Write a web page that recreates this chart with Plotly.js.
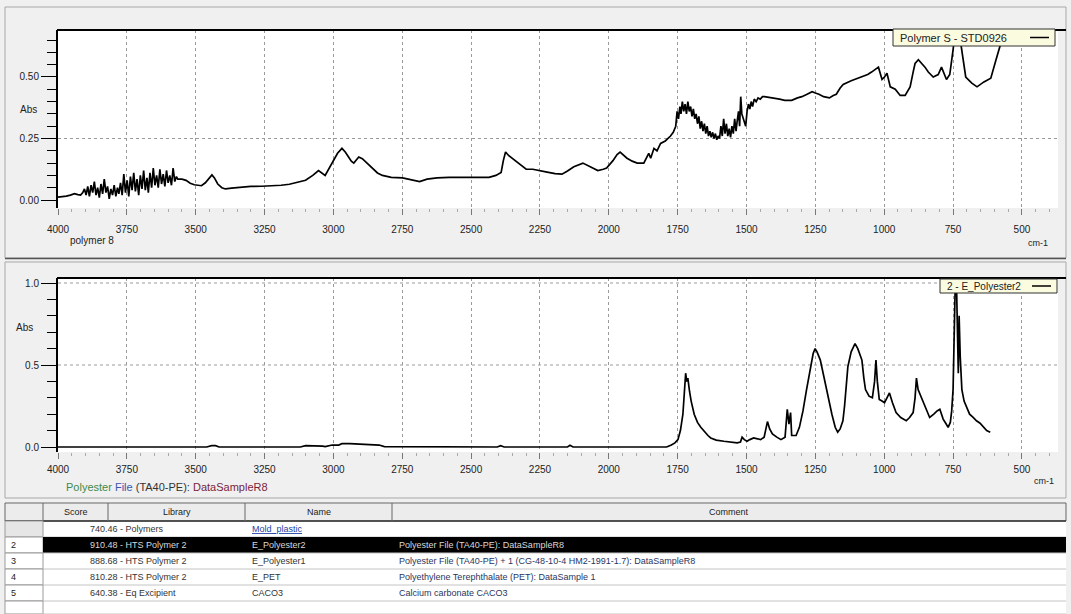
<!DOCTYPE html>
<html>
<head>
<meta charset="utf-8">
<script src="https://cdn.plot.ly/plotly-3.0.1.min.js"></script>
<style>
  html, body { margin: 0; padding: 0; background: #f0f0f0; }
  #chart { width: 1071px; height: 614px; }
</style>
</head>
<body>
<div id="chart"></div>
<script>
// Sample spectrum (upper pane): wavenumber (cm-1) and absorbance
const sampleWn = [
  4000, 3985, 3970, 3955, 3940, 3928, 3918, 3910, 3904, 3898, 3892, 3886, 3880, 3874, 3868, 3862,
  3856, 3850, 3844, 3838, 3832, 3826, 3820, 3814, 3808, 3802, 3796, 3790, 3784, 3779, 3773, 3767,
  3761, 3755, 3749, 3743, 3737, 3731, 3725, 3719, 3713, 3707, 3701, 3695, 3689, 3683, 3677, 3672,
  3666, 3660, 3654, 3648, 3642, 3636, 3630, 3624, 3618, 3612, 3606, 3600, 3594, 3588, 3582, 3576,
  3570, 3565, 3550, 3535, 3520, 3505, 3490, 3479, 3465, 3452, 3441, 3432, 3420, 3405, 3392, 3370,
  3340, 3300, 3260, 3220, 3190, 3160, 3139, 3101, 3075, 3054, 3030, 3015, 2999, 2985, 2969, 2957,
  2945, 2935, 2926, 2908, 2895, 2883, 2859, 2840, 2822, 2790, 2749, 2720, 2687, 2660, 2624, 2580,
  2530, 2480, 2435, 2410, 2391, 2383, 2375, 2363, 2352, 2340, 2322, 2300, 2276, 2250, 2224, 2195,
  2170, 2150, 2127, 2094, 2075, 2062, 2040, 2020, 2008, 1985, 1970, 1959, 1945, 1934, 1915, 1897,
  1873, 1862, 1855, 1848, 1836, 1825, 1812, 1795, 1776, 1766, 1757, 1752, 1747, 1742, 1738, 1733,
  1728, 1723, 1718, 1713, 1708, 1703, 1698, 1693, 1688, 1683, 1678, 1673, 1668, 1663, 1658, 1653,
  1648, 1643, 1638, 1633, 1628, 1623, 1618, 1613, 1608, 1603, 1598, 1593, 1588, 1583, 1578, 1573,
  1568, 1563, 1558, 1553, 1548, 1543, 1538, 1534, 1529, 1525, 1521, 1517, 1512, 1507, 1503, 1498,
  1493, 1488, 1483, 1478, 1472, 1465, 1458, 1450, 1442, 1435, 1420, 1398, 1380, 1361, 1336, 1315,
  1299, 1280, 1262, 1250, 1237, 1220, 1199, 1185, 1174, 1160, 1149, 1120, 1085, 1060, 1046, 1030,
  1021, 1008, 999, 990, 978, 960, 942, 924, 906, 895, 888, 876, 864, 852, 840, 822,
  804, 792, 774, 762, 750, 741, 733, 725, 718, 713, 704, 682, 663, 638, 613, 594,
  575, 563, 555
];
const sampleAbs = [
  0.012, 0.013, 0.016, 0.020, 0.026, 0.022, 0.020, 0.030, 0.045, 0.020, 0.055, 0.015, 0.060, 0.030, 0.075, 0.020,
  0.050, 0.010, 0.065, 0.025, 0.085, 0.030, 0.055, 0.005, 0.045, 0.020, 0.060, 0.015, 0.050, 0.025, 0.070, 0.020,
  0.105, 0.030, 0.080, 0.015, 0.095, 0.040, 0.110, 0.035, 0.085, 0.020, 0.100, 0.045, 0.120, 0.040, 0.090, 0.030,
  0.110, 0.050, 0.130, 0.060, 0.100, 0.050, 0.125, 0.065, 0.105, 0.055, 0.120, 0.070, 0.100, 0.060, 0.130, 0.075,
  0.095, 0.085, 0.085, 0.080, 0.068, 0.062, 0.058, 0.058, 0.070, 0.085, 0.102, 0.090, 0.065, 0.050, 0.045, 0.048,
  0.052, 0.055, 0.056, 0.057, 0.060, 0.064, 0.070, 0.080, 0.100, 0.120, 0.100, 0.130, 0.160, 0.190, 0.210, 0.195,
  0.175, 0.158, 0.150, 0.175, 0.168, 0.155, 0.130, 0.110, 0.100, 0.092, 0.090, 0.082, 0.075, 0.085, 0.090, 0.092,
  0.091, 0.092, 0.092, 0.100, 0.112, 0.160, 0.195, 0.180, 0.170, 0.160, 0.145, 0.125, 0.125, 0.118, 0.113, 0.107,
  0.105, 0.118, 0.135, 0.150, 0.140, 0.130, 0.120, 0.125, 0.130, 0.160, 0.185, 0.195, 0.182, 0.170, 0.158, 0.150,
  0.150, 0.175, 0.190, 0.170, 0.210, 0.200, 0.230, 0.240, 0.260, 0.275, 0.300, 0.360, 0.330, 0.380, 0.350, 0.400,
  0.360, 0.390, 0.350, 0.400, 0.360, 0.380, 0.340, 0.370, 0.330, 0.350, 0.310, 0.340, 0.290, 0.320, 0.280, 0.310,
  0.270, 0.300, 0.260, 0.280, 0.255, 0.275, 0.250, 0.270, 0.245, 0.260, 0.250, 0.300, 0.260, 0.330, 0.270, 0.310,
  0.260, 0.290, 0.255, 0.300, 0.270, 0.330, 0.280, 0.320, 0.360, 0.300, 0.420, 0.350, 0.330, 0.310, 0.300, 0.360,
  0.390, 0.370, 0.400, 0.380, 0.410, 0.400, 0.415, 0.410, 0.420, 0.420, 0.418, 0.415, 0.410, 0.405, 0.405, 0.415,
  0.420, 0.430, 0.440, 0.435, 0.430, 0.420, 0.415, 0.425, 0.430, 0.455, 0.470, 0.485, 0.500, 0.510, 0.520, 0.535,
  0.540, 0.490, 0.500, 0.515, 0.460, 0.450, 0.425, 0.425, 0.460, 0.520, 0.555, 0.570, 0.555, 0.540, 0.520, 0.500,
  0.510, 0.540, 0.490, 0.510, 0.610, 0.700, 0.720, 0.660, 0.620, 0.570, 0.500, 0.475, 0.460, 0.480, 0.495, 0.570,
  0.640, 0.690, 0.720
];

// Library match spectrum (lower pane)
const refWn = [
  4000, 3700, 3460, 3442, 3428, 3415, 3120, 3101, 3060, 3039, 3030, 3004, 2981, 2969, 2940, 2908,
  2883, 2834, 2815, 2600, 2405, 2393, 2380, 2150, 2141, 2130, 1790, 1773, 1760, 1749, 1740, 1731,
  1725, 1721, 1717, 1713, 1707, 1701, 1690, 1678, 1666, 1654, 1640, 1630, 1610, 1582, 1560, 1534,
  1522, 1516, 1508, 1498, 1488, 1474, 1460, 1449, 1436, 1424, 1416, 1406, 1390, 1375, 1360, 1352,
  1346, 1340, 1336, 1320, 1308, 1295, 1282, 1270, 1258, 1251, 1244, 1232, 1220, 1207, 1190, 1178,
  1169, 1160, 1150, 1144, 1132, 1120, 1106, 1096, 1081, 1074, 1068, 1055, 1043, 1035, 1030, 1025,
  1018, 1008, 999, 990, 981, 970, 957, 940, 920, 908, 895, 888, 883, 877, 870, 865,
  850, 835, 820, 808, 798, 786, 775, 768, 760, 755, 750, 746, 742, 738, 735, 731,
  728, 724, 718, 710, 700, 690, 677, 665, 652, 640, 628, 615
];
const refAbs = [
  0.000, 0.000, 0.000, 0.008, 0.008, 0.000, 0.000, 0.008, 0.008, 0.005, 0.002, 0.012, 0.012, 0.020, 0.020, 0.018,
  0.012, 0.012, 0.002, 0.000, 0.000, 0.008, 0.000, 0.000, 0.010, 0.000, 0.000, 0.012, 0.025, 0.045, 0.100, 0.200,
  0.380, 0.450, 0.400, 0.420, 0.340, 0.280, 0.200, 0.150, 0.120, 0.095, 0.070, 0.055, 0.042, 0.035, 0.030, 0.025,
  0.030, 0.060, 0.045, 0.035, 0.045, 0.055, 0.050, 0.045, 0.060, 0.155, 0.110, 0.080, 0.060, 0.045, 0.060, 0.230,
  0.140, 0.210, 0.070, 0.070, 0.120, 0.220, 0.350, 0.470, 0.570, 0.600, 0.580, 0.530, 0.430, 0.330, 0.200, 0.120,
  0.090, 0.110, 0.160, 0.250, 0.490, 0.580, 0.630, 0.600, 0.530, 0.420, 0.350, 0.310, 0.300, 0.400, 0.530, 0.400,
  0.290, 0.280, 0.270, 0.300, 0.330, 0.270, 0.210, 0.180, 0.160, 0.180, 0.210, 0.300, 0.420, 0.350, 0.320, 0.300,
  0.240, 0.180, 0.200, 0.220, 0.230, 0.170, 0.140, 0.120, 0.150, 0.220, 0.350, 0.600, 1.000, 1.030, 0.700, 0.450,
  0.800, 0.550, 0.350, 0.280, 0.240, 0.200, 0.180, 0.160, 0.145, 0.120, 0.100, 0.090
];

// Horizontal reference levels drawn in each pane
const sampleGridLevels = [0.25];
const refGridLevels = [0.5, 1.0];

// Search result table
const headerLabels = ['', 'Score', 'Library', 'Name', 'Comment'];
const rowIndex     = ['', '2', '3', '4', '5'];
const matchScore   = ['740.46', '910.48', '888.68', '810.28', '640.38'];
const libraryName  = ['Polymers', 'HTS Polymer 2', 'HTS Polymer 2', 'HTS Polymer 2', 'Eq Excipient'];
const compoundName = ['Mold_plastic', 'E_Polyester2', 'E_Polyester1', 'E_PET', 'CACO3'];
const comments = [
  '',
  'Polyester File (TA40-PE): DataSampleR8',
  'Polyester File (TA40-PE) + 1 (CG-48-10-4 HM2-1991-1.7): DataSampleR8',
  'Polyethylene Terephthalate (PET): DataSample 1',
  'Calcium carbonate CACO3'
];
const selectedRow = 1;

const W = 1071, H = 614;
const px = x => x / W;
const py = y => 1 - y / H;
const FONT = 'Liberation Sans, Arial, sans-serif';

// text placed on the page in pixel terms
function label(x, y, text, opts) {
  return Object.assign({ xref: 'paper', yref: 'paper', x: px(x), y: py(y), text: text,
    showarrow: false, xanchor: 'left', yanchor: 'middle',
    font: { family: FONT, size: 10, color: '#222' } }, opts || {});
}
function paperRect(x0, y0, x1, y1, fill, line, extra) {
  return Object.assign({ type: 'rect', xref: 'paper', yref: 'paper', x0: px(x0), x1: px(x1),
    y0: py(y1), y1: py(y0), fillcolor: fill, line: line }, extra || {});
}
function paperLine(x0, y0, x1, y1, color, width) {
  return { type: 'line', xref: 'paper', yref: 'paper', x0: px(x0), x1: px(x1), y0: py(y0), y1: py(y1),
    line: { color: color, width: width } };
}
function levelLine(yref, xdomainRef, v) {
  return { type: 'line', xref: xdomainRef, yref: yref, x0: 0, x1: 1, y0: v, y1: v,
    line: { color: '#9a9a9a', width: 1, dash: 'dot' }, layer: 'below' };
}

const traces = [
  { x: sampleWn, y: sampleAbs, type: 'scatter', mode: 'lines', xaxis: 'x', yaxis: 'y',
    line: { color: '#000', width: 1.7 }, hoverinfo: 'skip' },
  { x: refWn, y: refAbs, type: 'scatter', mode: 'lines', xaxis: 'x2', yaxis: 'y2',
    line: { color: '#000', width: 1.7 }, hoverinfo: 'skip' }
];

const xCommon = {
  range: [4000, 369],
  domain: [px(58), px(1058)],
  dtick: 250, tick0: 0,
  showgrid: true, gridcolor: '#9a9a9a', griddash: 'dot', gridwidth: 1,
  zeroline: false, showline: false,
  ticks: 'outside', ticklen: 6, tickcolor: '#777',
  minor: { dtick: 50, ticks: 'outside', ticklen: 3, tickcolor: '#aaa', showgrid: false },
  tickfont: { family: FONT, size: 10, color: '#222' },
  fixedrange: true
};
const yCommon = {
  showline: true, linecolor: '#000', linewidth: 2,
  zeroline: false, showgrid: false,
  ticks: 'outside', ticklen: 15, tickcolor: '#000', tickwidth: 1,
  tickfont: { family: FONT, size: 10, color: '#222' },
  fixedrange: true
};

const shapes = [
  // pane borders
  paperRect(5, 7, 1066, 258, 'rgba(0,0,0,0)', { color: '#a8a8a8', width: 1 }, { layer: 'below' }),
  paperRect(5, 262, 1066, 498, 'rgba(0,0,0,0)', { color: '#a8a8a8', width: 1 }, { layer: 'below' }),
  paperLine(5, 258.5, 1066, 258.5, '#555', 1.5),
  // heavy frame line along the top of each plot
  paperLine(57, 30, 1066, 30, '#000', 2),
  paperLine(57, 278, 1066, 278, '#000', 2),
  // spectrum label boxes with their line swatch
  paperRect(893, 29, 1055, 46, '#fbfbe0', { color: '#333', width: 1 }),
  paperLine(1030, 37.5, 1049, 37.5, '#000', 1.5),
  paperRect(940, 279, 1057, 293, '#fbfbe0', { color: '#333', width: 1 }),
  paperLine(1032, 286, 1051, 286, '#000', 1.5)
];
sampleGridLevels.forEach(v => shapes.push(levelLine('y', 'x domain', v)));
refGridLevels.forEach(v => shapes.push(levelLine('y2', 'x2 domain', v)));

const annotations = [
  label(28, 110, 'Abs', { xanchor: 'center' }),
  label(24, 327, 'Abs', { xanchor: 'center' }),
  label(68, 241, 'polymer 8'),
  label(1050, 243, 'cm-1', { xanchor: 'right', font: { family: FONT, size: 9, color: '#222' } }),
  label(1056, 481, 'cm-1', { xanchor: 'right', font: { family: FONT, size: 9, color: '#222' } }),
  label(64, 487,
    '<span style="color:#3f8a4a">Polyester</span> <span style="color:#3b55b0">File</span> ' +
    '<span style="color:#333">(TA40-PE):</span> <span style="color:#7a1f3a">DataSampleR8</span>',
    { font: { family: FONT, size: 11 } }),
  label(898, 37.5, 'Polymer S - STD0926', { font: { family: FONT, size: 11, color: '#222' } }),
  label(945, 286, '2 - E_Polyester2', { font: { family: FONT, size: 10, color: '#222' } })
];

// Result table: header strip, column separators, rows and their text
const tableLeft = 5, tableRight = 1066, headerTop = 503, headerBottom = 521, rowH = 16;
const colEdges = [tableLeft, 43, 108, 245, 392, tableRight];
shapes.push(paperRect(tableLeft, headerTop, tableRight, 614, '#ffffff', { width: 0 }, { layer: 'below' }));
shapes.push(paperRect(tableLeft, headerTop, tableRight, headerBottom, '#ececec', { color: '#666', width: 1 }));
shapes.push(paperLine(tableLeft, headerBottom, tableRight, headerBottom, '#333', 1.5));
for (let c = 1; c < colEdges.length - 1; c++) {
  shapes.push(paperLine(colEdges[c], headerTop, colEdges[c], headerBottom, '#666', 1));
}
for (let c = 0; c < headerLabels.length; c++) {
  if (!headerLabels[c]) continue;
  annotations.push(label((colEdges[c] + colEdges[c + 1]) / 2, (headerTop + headerBottom) / 2,
    headerLabels[c], { xanchor: 'center', font: { family: FONT, size: 9, color: '#222' } }));
}
for (let r = 0; r <= rowIndex.length; r++) {
  const top = headerBottom + r * rowH, bottom = Math.min(top + rowH, 614);
  const inData = r < rowIndex.length;
  const sel = r === selectedRow;
  shapes.push(paperRect(tableLeft, top, 43, bottom, r === 0 ? '#e6e6e6' : '#ffffff',
    { color: '#9a9a9a', width: 1 }));
  if (sel) shapes.push(paperRect(43, top, tableRight, bottom, '#000000', { width: 0 }));
  shapes.push(paperLine(tableLeft, bottom, tableRight, bottom, '#c4c4c4', 1));
  if (!inData) continue;
  const yc = top + rowH / 2;
  const ink = sel ? '#d8d8d8' : '#333';
  annotations.push(label(9, yc, rowIndex[r], { font: { family: FONT, size: 9, color: '#222' } }));
  annotations.push(label(88, yc, matchScore[r] + ' - ' + libraryName[r],
    { font: { family: FONT, size: 9, color: ink } }));
  annotations.push(label(250, yc, r === 0 ? '<u>' + compoundName[r] + '</u>' : compoundName[r],
    { font: { family: FONT, size: 9, color: r === 0 ? '#2442a8' : ink } }));
  if (comments[r]) {
    annotations.push(label(397, yc, comments[r],
      { font: { family: FONT, size: 9, color: sel ? '#d8d8d8' : '#2a3560' } }));
  }
}

const layout = {
  width: W, height: H,
  margin: { l: 0, r: 0, t: 0, b: 0 },
  paper_bgcolor: '#f0f0f0',
  plot_bgcolor: '#ffffff',
  showlegend: false,
  font: { family: FONT, size: 10, color: '#222' },
  xaxis: Object.assign({}, xCommon, { anchor: 'y', ticklabelstandoff: 6 }),
  xaxis2: Object.assign({}, xCommon, { anchor: 'y2', ticklabelstandoff: 2 }),
  yaxis: Object.assign({}, yCommon, {
    domain: [py(208), py(30)], range: [-0.0325, 0.691],
    tickvals: [0, 0.25, 0.5], ticktext: ['0.00', '0.25', '0.50'],
    minor: { dtick: 0.05, ticks: 'outside', ticklen: 9, tickcolor: '#000', showgrid: false },
    anchor: 'x'
  }),
  yaxis2: Object.assign({}, yCommon, {
    domain: [py(452), py(278)], range: [-0.0305, 1.0305],
    tickvals: [0, 0.5, 1.0], ticktext: ['0.0', '0.5', '1.0'],
    minor: { dtick: 0.1, ticks: 'outside', ticklen: 9, tickcolor: '#000', showgrid: false },
    anchor: 'x2'
  }),
  shapes: shapes,
  annotations: annotations
};

Plotly.newPlot('chart', traces, layout, { staticPlot: true, displayModeBar: false });
</script>
</body>
</html>
